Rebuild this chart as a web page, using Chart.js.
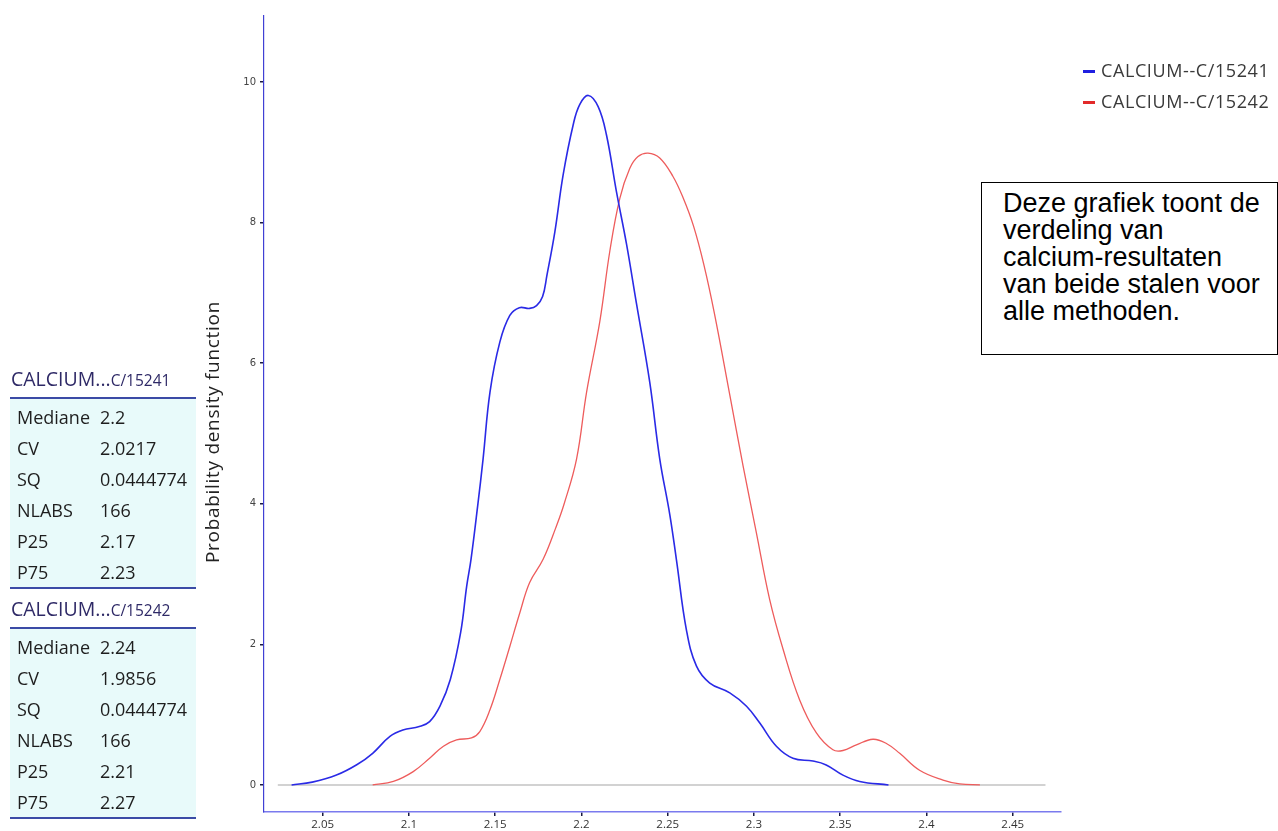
<!DOCTYPE html>
<html>
<head>
<meta charset="utf-8">
<title>Calcium verdeling</title>
<script src="https://cdn.jsdelivr.net/npm/chart.js@4.4.1/dist/chart.umd.min.js"></script>
<style>
  html, body { margin: 0; padding: 0; background: #fff; }
  body { width: 1278px; height: 831px; position: relative; overflow: hidden; font-family: 'Open Sans', sans-serif; }
  #chartWrap { position: absolute; left: 0; top: 0; width: 1278px; height: 831px; }
  .legendMark { position: absolute; left: 1083px; width: 12px; height: 3px; }
  .legendText { position: absolute; left: 1101px; font-size: 18px; line-height: 24px; color: #3a3a3a; white-space: nowrap; letter-spacing: 0.6px; }
  #note { position: absolute; left: 981px; top: 182px; width: 297px; height: 173px; box-sizing: border-box;
          border: 1px solid #000; padding: 7px 0 0 21px; font-family: 'Liberation Sans', Arial, sans-serif;
          font-size: 27px; line-height: 27px; color: #000; white-space: nowrap; background: #fff; }
  .statHead { position: absolute; left: 11px; font-size: 19.5px; line-height: 24px; color: #2e2966; white-space: nowrap; }
  .statHead small { font-size: 15.5px; }
  .statLine { position: absolute; left: 10px; width: 186px; height: 2px; background: #3b4ba6; }
  .statBody { position: absolute; left: 10px; width: 186px; background: #e8fafa; }
  .statRow { position: absolute; left: 7px; height: 31px; line-height: 31px; font-size: 18px; color: #1e1e1e; white-space: nowrap; }
  .statRow span { position: absolute; left: 83px; }
</style>
</head>
<body>
<div id="chartWrap"><canvas id="pdfChart"></canvas></div>
<div id="legend"></div>
<div id="note">Deze grafiek toont de<br>verdeling van<br>calcium-resultaten<br>van beide stalen voor<br>alle methoden.</div>
<div id="stats"></div>
<script>
// series names
const seriesNames = ['CALCIUM--C/15241', 'CALCIUM--C/15242'];

// CALCIUM--C/15241 (blue) density curve
const blueX = [2.032, 2.044, 2.058, 2.070, 2.079, 2.089, 2.0965, 2.106, 2.112, 2.118, 2.124, 2.130, 2.1335, 2.136,
  2.140, 2.143, 2.147, 2.1527, 2.1585, 2.164, 2.170, 2.174, 2.1775, 2.180, 2.1846, 2.1894, 2.1952, 2.199, 2.204,
  2.2097, 2.2145, 2.2203, 2.2261, 2.2319, 2.2396, 2.2454, 2.2512, 2.2551, 2.2609, 2.2667, 2.2744, 2.286, 2.2957,
  2.3034, 2.313, 2.3226, 2.3342, 2.3419, 2.3516, 2.3613, 2.378];
const blueY = [0, 0.04, 0.14, 0.29, 0.45, 0.69, 0.78, 0.83, 0.9, 1.12, 1.5, 2.17, 2.83, 3.21,
  4.0, 4.64, 5.59, 6.3, 6.68, 6.79, 6.78, 6.82, 6.95, 7.25, 7.87, 8.68, 9.39, 9.68, 9.81,
  9.65, 9.25, 8.44, 7.7, 6.85, 5.73, 4.64, 3.85, 3.2, 2.2, 1.69, 1.45, 1.31, 1.12,
  0.88, 0.55, 0.38, 0.34, 0.285, 0.14, 0.05, 0];

// CALCIUM--C/15242 (red) density curve
const redX = [2.079, 2.091, 2.1025, 2.112, 2.120, 2.1276, 2.1363, 2.1411, 2.147, 2.1527, 2.1585, 2.1643, 2.170,
  2.1778, 2.185, 2.190, 2.1972, 2.203, 2.2107, 2.2165, 2.2223, 2.228, 2.2328, 2.2386, 2.2454, 2.253, 2.259,
  2.265, 2.271, 2.277, 2.286, 2.2937, 2.3014, 2.3091, 2.3169, 2.3265, 2.3362, 2.3458, 2.3516, 2.3594, 2.369, 2.3768,
  2.3845, 2.396, 2.4096, 2.4193, 2.431];
const redY = [0, 0.05, 0.19, 0.38, 0.55, 0.64, 0.67, 0.76, 1.07, 1.5, 1.97, 2.45, 2.88,
  3.21, 3.65, 4.0, 4.64, 5.59, 6.6, 7.6, 8.35, 8.77, 8.94, 8.99, 8.92, 8.66, 8.35,
  7.95, 7.4, 6.72, 5.55, 4.54, 3.59, 2.64, 1.93, 1.21, 0.74, 0.5, 0.49, 0.57, 0.65, 0.59,
  0.45, 0.21, 0.07, 0.015, 0];

// grey zero line
const baseX = [2.024, 2.469];
const baseY = [0, 0];

// tick labels
const xTicks = [2.05, 2.1, 2.15, 2.2, 2.25, 2.3, 2.35, 2.4, 2.45];
const yTicks = [0, 2, 4, 6, 8, 10];

// statistics tables
const statLabels = ['Mediane', 'CV', 'SQ', 'NLABS', 'P25', 'P75'];
const stats15241 = ['2.2', '2.0217', '0.0444774', '166', '2.17', '2.23'];
const stats15242 = ['2.24', '1.9856', '0.0444774', '166', '2.21', '2.27'];

const toPoints = (xs, ys) => xs.map((x, i) => ({ x: x, y: ys[i] }));

// legend
const legendColors = ['#1f1fe0', '#e22a2a'];
const legend = document.getElementById('legend');
seriesNames.forEach((name, i) => {
    const cy = 71 + i * 31;
    legend.innerHTML += `<div class="legendMark" style="top:${cy - 1}px;background:${legendColors[i]}"></div>` +
        `<div class="legendText" style="top:${cy - 13}px">${name}</div>`;
});

// stat tables
const stats = document.getElementById('stats');
const buildTable = (name, values, headTop) => {
    const parts = name.split('--');
    let html = `<div class="statHead" style="top:${headTop}px">${parts[0]}...<small>${parts[1]}</small></div>`;
    const lineTop = headTop + 30;
    html += `<div class="statLine" style="top:${lineTop}px"></div>`;
    html += `<div class="statBody" style="top:${lineTop + 2}px;height:${values.length * 31 + 2}px">`;
    statLabels.forEach((label, i) => {
        html += `<div class="statRow" style="top:${3 + i * 31}px">${label}<span>${values[i]}</span></div>`;
    });
    html += `</div>`;
    html += `<div class="statLine" style="top:${lineTop + 4 + values.length * 31}px"></div>`;
    stats.innerHTML += html;
};
buildTable(seriesNames[0], stats15241, 367);
buildTable(seriesNames[1], stats15242, 597);

// y axis title drawn at its own spot
const yTitlePlugin = {
    id: 'yTitle',
    afterDraw(chart) {
        const ctx = chart.ctx;
        ctx.save();
        ctx.translate(214, 432);
        ctx.rotate(-Math.PI / 2);
        ctx.font = '19px "Open Sans"';
        ctx.letterSpacing = '0.7px';
        ctx.fillStyle = '#222';
        ctx.textAlign = 'center';
        ctx.textBaseline = 'middle';
        ctx.fillText('Probability density function', 0, 0);
        ctx.restore();
    }
};

new Chart(document.getElementById('pdfChart'), {
    type: 'line',
    data: {
        datasets: [
            {
                label: seriesNames[0],
                data: toPoints(blueX, blueY),
                borderColor: '#2a2ae6',
                borderWidth: 1.6,
                pointRadius: 0,
                tension: 0.4,
                order: 1
            },
            {
                label: seriesNames[1],
                data: toPoints(redX, redY),
                borderColor: '#ee5c5c',
                borderWidth: 1.3,
                pointRadius: 0,
                tension: 0.4,
                order: 2
            },
            {
                label: 'zero',
                data: toPoints(baseX, baseY),
                borderColor: '#d2d2d2',
                borderWidth: 2,
                pointRadius: 0,
                order: 3
            }
        ]
    },
    options: {
        responsive: true,
        maintainAspectRatio: false,
        animation: false,
        layout: { padding: { left: 200, right: 217, top: 16, bottom: 0 } },
        plugins: {
            legend: { display: false },
            tooltip: { enabled: false }
        },
        scales: {
            x: {
                type: 'linear',
                min: 2.016,
                max: 2.478,
                afterBuildTicks: (scale) => { scale.ticks = xTicks.map(v => ({ value: v })); },
                afterFit: (scale) => { scale.height = 19; },
                border: { display: true, color: '#7a7aee', width: 1.5 },
                grid: { drawOnChartArea: false, tickLength: 4, color: '#1a1a40', lineWidth: 1.5 },
                ticks: {
                    autoSkip: false,
                    maxRotation: 0,
                    padding: 2,
                    color: '#333',
                    font: { family: 'Open Sans', size: 11.5 },
                    callback: (value) => value.toString()
                }
            },
            y: {
                min: -0.385,
                max: 10.94,
                afterBuildTicks: (scale) => { scale.ticks = yTicks.map(v => ({ value: v })); },
                afterFit: (scale) => { scale.width = 64; },
                border: { display: true, color: '#4040d4', width: 1.2 },
                grid: { drawOnChartArea: false, tickLength: 4, color: '#1a1a40', lineWidth: 1.5 },
                ticks: {
                    padding: 4,
                    color: '#444',
                    font: { family: 'DejaVu Sans', size: 10 },
                    callback: (value) => value.toString()
                }
            }
        }
    },
    plugins: [yTitlePlugin]
});
</script>
</body>
</html>
